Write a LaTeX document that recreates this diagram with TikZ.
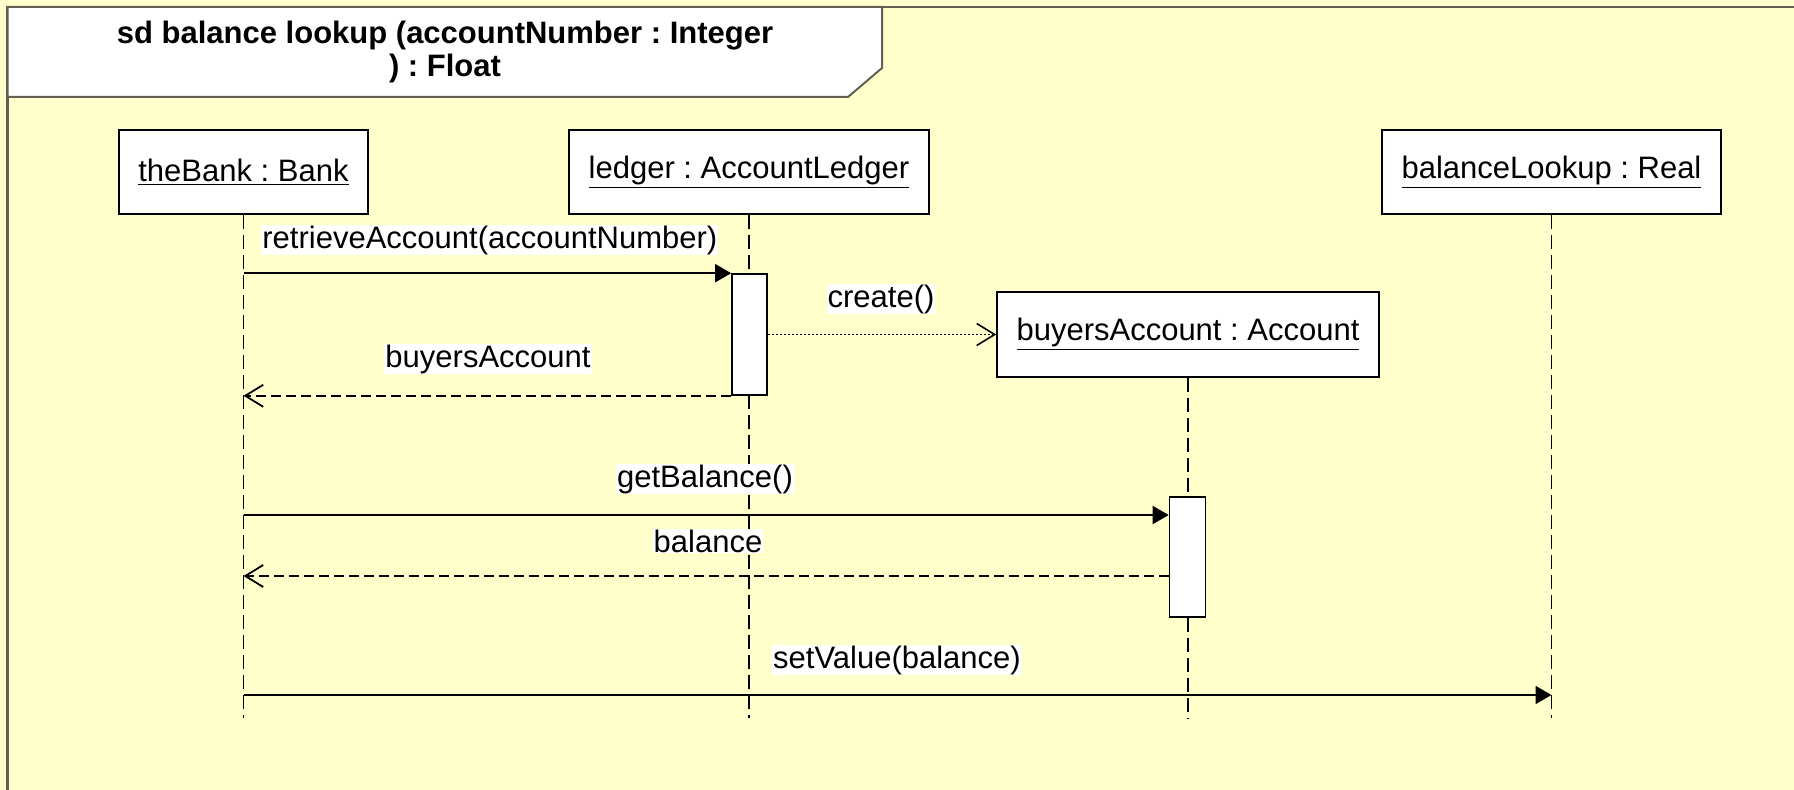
\documentclass[tikz,border=0pt]{standalone}
\usepackage{fontspec}
\setmainfont{Liberation Sans}
\usetikzlibrary{arrows.meta}
\definecolor{notebg}{RGB}{255,255,204}
\definecolor{framegray}{RGB}{96,96,84}
\frenchspacing

\begin{document}
\begin{tikzpicture}[x=0.5pt,y=-0.5pt]
	\tikzstyle{every node}+=[font=\fontsize{15.5}{16.5}\selectfont]
	\tikzstyle{obj}=[draw=black,fill=white,line width=0.8pt,inner sep=0pt,minimum height=42pt]
	\tikzstyle{act}=[draw=black,fill=white,line width=0.8pt,inner sep=0pt,minimum width=17.5pt]
	\tikzstyle{lbl}=[fill=white,inner sep=0.5pt]
	\tikzstyle{lifeline}=[black,line width=0.9pt,dash pattern=on 7pt off 3pt]
	\tikzstyle{call}=[black,line width=0.9pt,-{Triangle[length=8pt,width=9pt]}]
	\tikzstyle{reply}=[black,line width=0.9pt,dash pattern=on 5pt off 2.5pt,-{Straight Barb[length=9pt,width=11pt]}]
	\tikzstyle{newmsg}=[black,line width=0.8pt,dash pattern=on 1pt off 1pt,-{Straight Barb[length=9pt,width=11pt]}]

	% frame
	\fill[notebg] (0,0) rectangle (1794,790);
	\useasboundingbox (0,0) rectangle (1794,790);
	\draw[framegray,line width=1.2pt] (1794,7) -- (7.5,7) -- (7.5,790);
	\draw[framegray,fill=white,line width=1pt] (7.5,7) -- (882,7) -- (882,68) -- (848,97) -- (7.5,97) -- cycle;
	\node[font=\fontsize{15.5}{16.5}\selectfont\bfseries,align=center] (title) at (445,51.5) {sd balance lookup (accountNumber : Integer\\) : Float};

	% objects
	\node[obj,minimum width=124.5pt] (bank) at (243.5,172) {\underline{theBank : Bank}};
	\node[obj,minimum width=180pt] (ledger) at (749,172) {\underline{ledger : AccountLedger}};
	\node[obj,minimum width=169.5pt] (lookup) at (1551.5,172) {\underline{balanceLookup : Real}};
	\node[obj,minimum width=191pt,minimum height=42.5pt] (account) at (1188,334.5) {\underline{buyersAccount : Account}};

	% lifelines
	\coordinate (end) at (0,718);
	\draw[lifeline] (bank.south) -- (bank.south |- end);
	\draw[lifeline] (ledger.south) -- (ledger.south |- end);
	\draw[lifeline] (lookup.south) -- (lookup.south |- end);
	\draw[lifeline] (account.south) -- (account.south |- end);

	\node[act,minimum height=60.5pt] (actLedger) at (749.5,334.5) {};
	\node[act,minimum height=60pt,minimum width=18pt] (actAccount) at (1187.5,557) {};

	% messages
	\draw[call] (bank.south |- actLedger.north) -- (actLedger.north west);
	\node[lbl,anchor=west] (retrieveLbl) at (261,240) {retrieveAccount(accountNumber)};

	\draw[newmsg] (actLedger.east |- account.west) -- (account.west);
	\node[lbl] (createLbl) at (881,299) {create()};

	\draw[reply] (actLedger.south west) -- (bank.south |- actLedger.south);
	\node[lbl] (accountLbl) at (488,359) {buyersAccount};

	\coordinate (getMsg) at (0,515);
	\draw[call] (bank.south |- getMsg) -- (actAccount.west |- getMsg);
	\node[lbl] (getLbl) at (705,479) {getBalance()};

	\coordinate (balMsg) at (0,576);
	\draw[reply] (actAccount.west |- balMsg) -- (bank.south |- balMsg);
	\node[lbl] (balLbl) at (708,541) {balance};

	\coordinate (setMsg) at (0,695);
	\draw[call] (bank.south |- setMsg) -- (lookup.south |- setMsg);
	\node[lbl] (setLbl) at (897,660) {setValue(balance)};
\end{tikzpicture}
\end{document}
